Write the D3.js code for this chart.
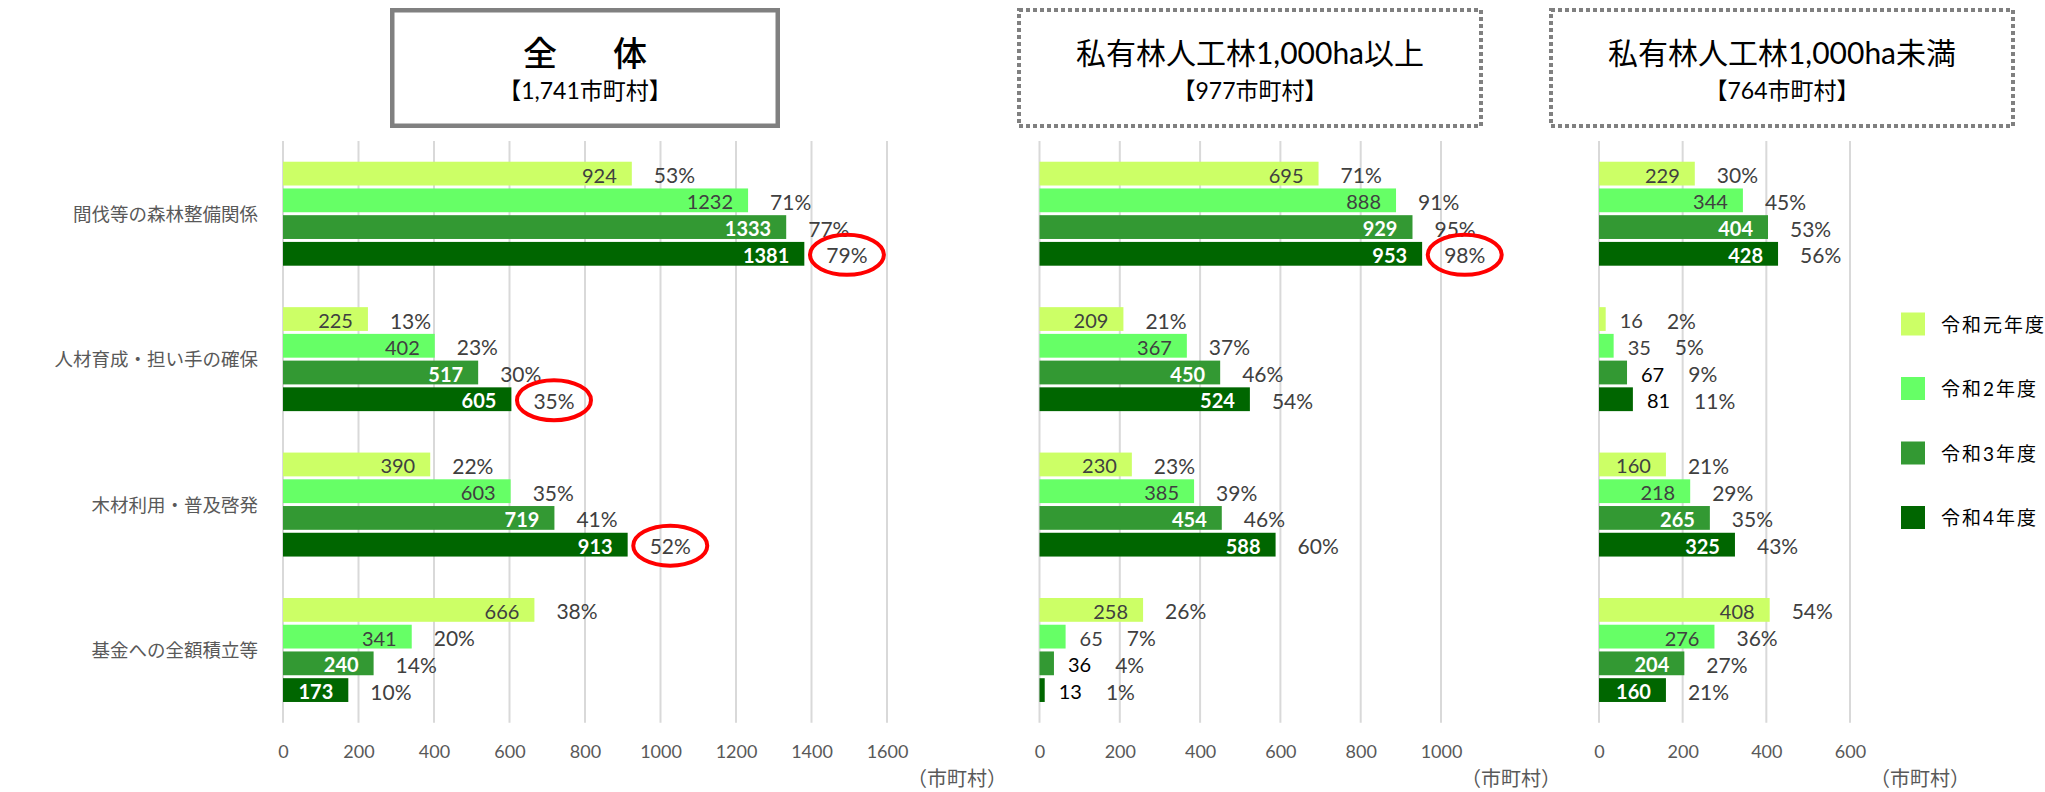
<!DOCTYPE html>
<html><head><meta charset="utf-8">
<script src="https://cdn.jsdelivr.net/npm/d3@7"></script>
<style>
html,body{margin:0;padding:0;background:#fff;}
svg{display:block;}
text{font-family: Lato, 'Noto Sans CJK JP', sans-serif;}
</style></head><body>
<svg id="chart" width="2045" height="792"></svg>
<script>
// ---------------- DATA ----------------
const categories = ["間伐等の森林整備関係", "人材育成・担い手の確保", "木材利用・普及啓発", "基金への全額積立等"];
const seriesNames = ["令和元年度", "令和2年度", "令和3年度", "令和4年度"];
const seriesColors = ["#CCFF66", "#66FF66", "#339933", "#006600"];

const panelTitles = ["全　体", "私有林人工林1,000ha以上", "私有林人工林1,000ha未満"];
const panelSubtitles = ["【1,741市町村】", "【977市町村】", "【764市町村】"];
const unitLabel = "（市町村）";

// 全体 (1,741)
const totalR1 = [924, 225, 390, 666];
const totalR2 = [1232, 402, 603, 341];
const totalR3 = [1333, 517, 719, 240];
const totalR4 = [1381, 605, 913, 173];
const totalPctR1 = [53, 13, 22, 38];
const totalPctR2 = [71, 23, 35, 20];
const totalPctR3 = [77, 30, 41, 14];
const totalPctR4 = [79, 35, 52, 10];

// 私有林人工林1,000ha以上 (977)
const largeR1 = [695, 209, 230, 258];
const largeR2 = [888, 367, 385, 65];
const largeR3 = [929, 450, 454, 36];
const largeR4 = [953, 524, 588, 13];
const largePctR1 = [71, 21, 23, 26];
const largePctR2 = [91, 37, 39, 7];
const largePctR3 = [95, 46, 46, 4];
const largePctR4 = [98, 54, 60, 1];

// 私有林人工林1,000ha未満 (764)
const smallR1 = [229, 16, 160, 408];
const smallR2 = [344, 35, 218, 276];
const smallR3 = [404, 67, 265, 204];
const smallR4 = [428, 81, 325, 160];
const smallPctR1 = [30, 2, 21, 54];
const smallPctR2 = [45, 5, 29, 36];
const smallPctR3 = [53, 9, 35, 27];
const smallPctR4 = [56, 11, 43, 21];

const totalTicks = [0, 200, 400, 600, 800, 1000, 1200, 1400, 1600];
const largeTicks = [0, 200, 400, 600, 800, 1000];
const smallTicks = [0, 200, 400, 600];

// highlighted (red-circled) percentages: [category index, series index]
const circledTotal = [[0, 3], [1, 3], [2, 3]];
const circledLarge = [[0, 3]];
const circledSmall = [];

// ---------------- LAYOUT ----------------
const svg = d3.select("#chart");
const plotTop = 141, plotBottom = 722.7;

const panels = [
  { values: [totalR1, totalR2, totalR3, totalR4], pcts: [totalPctR1, totalPctR2, totalPctR3, totalPctR4],
    ticks: totalTicks, range: [283, 887], circled: circledTotal,
    box: { x: 390, y: 8, w: 390, h: 120, dashed: false }, titleSize: 34, titleWeight: 500, spacing: 11 },
  { values: [largeR1, largeR2, largeR3, largeR4], pcts: [largePctR1, largePctR2, largePctR3, largePctR4],
    ticks: largeTicks, range: [1039.5, 1441], circled: circledLarge,
    box: { x: 1017, y: 8, w: 466, h: 120, dashed: true }, titleSize: 30, titleWeight: 400, spacing: 0 },
  { values: [smallR1, smallR2, smallR3, smallR4], pcts: [smallPctR1, smallPctR2, smallPctR3, smallPctR4],
    ticks: smallTicks, range: [1599, 1850], circled: circledSmall,
    box: { x: 1549, y: 8, w: 466, h: 120, dashed: true }, titleSize: 30, titleWeight: 400, spacing: 0 }
];

const y = d3.scaleBand().domain(categories).range([plotTop, plotBottom])
  .paddingInner(0.285).paddingOuter(0.1425);
const ys = d3.scaleBand().domain(d3.range(seriesNames.length)).range([0, y.bandwidth()])
  .paddingInner(0.11).paddingOuter(0);

const labelSize = 20, pctSize = 21;

panels.forEach((p, pi) => {
  const g = svg.append("g");
  const x = d3.scaleLinear().domain([0, d3.max(p.ticks)]).range(p.range);

  // title box
  const b = p.box, sw = p.box.dashed ? 4 : 4.5;
  g.append("rect")
    .attr("x", b.x + sw / 2).attr("y", b.y + sw / 2)
    .attr("width", b.w - sw).attr("height", b.h - sw)
    .attr("fill", "#fff").attr("stroke", "#808080").attr("stroke-width", sw)
    .attr("stroke-dasharray", b.dashed ? "4 3" : null);
  const cx = b.x + b.w / 2;
  g.append("text").text(panelTitles[pi])
    .attr("x", cx + p.spacing / 2).attr("y", 52)
    .attr("text-anchor", "middle").attr("dominant-baseline", "central")
    .attr("font-size", p.titleSize).attr("font-weight", p.titleWeight)
    .attr("letter-spacing", p.spacing).attr("fill", "#000");
  g.append("text").text(panelSubtitles[pi])
    .attr("x", cx).attr("y", 90)
    .attr("text-anchor", "middle").attr("dominant-baseline", "central")
    .attr("font-size", 23).attr("fill", "#000");

  // gridlines
  g.selectAll("line.grid").data(p.ticks).join("line")
    .attr("x1", d => x(d)).attr("x2", d => x(d))
    .attr("y1", plotTop).attr("y2", plotBottom)
    .attr("stroke", "#d9d9d9").attr("stroke-width", 2);

  // x axis labels
  const axis = d3.axisBottom(x).tickValues(p.ticks).tickSize(0).tickPadding(0).tickFormat(d3.format("d"));
  const ag = g.append("g").attr("transform", `translate(0,751)`).call(axis);
  ag.select(".domain").remove();
  ag.selectAll("text").attr("font-size", 18).attr("fill", "#595959")
    .attr("font-family", "Lato, 'Noto Sans CJK JP', sans-serif")
    .attr("dy", null).attr("y", 0).attr("dominant-baseline", "central");

  // unit label
  g.append("text").text(unitLabel)
    .attr("x", p.range[1] + 120).attr("y", 778)
    .attr("text-anchor", "end").attr("dominant-baseline", "central")
    .attr("font-size", 20).attr("fill", "#595959")
    .attr("font-family", "'Noto Sans CJK JP', sans-serif");

  // bars
  categories.forEach((cat, ci) => {
    seriesNames.forEach((sn, si) => {
      const v = p.values[si][ci];
      const pct = p.pcts[si][ci];
      const by = y(cat) + ys(si);
      const bh = ys.bandwidth();
      const cy = by + bh / 2;
      const bw = x(v) - x(0);
      g.append("rect")
        .attr("x", x(0)).attr("y", by).attr("width", bw).attr("height", bh)
        .attr("fill", seriesColors[si]);

      const dark = si >= 2;
      const vt = g.append("text").text(v)
        .attr("dominant-baseline", "central").attr("y", cy + 1)
        .attr("font-size", labelSize)
        .attr("font-weight", dark ? 700 : 400);
      const tw = vt.node().getComputedTextLength();
      let pctX;
      if (tw + 26 > bw) {
        vt.attr("x", x(v) + 14).attr("text-anchor", "start")
          .attr("font-weight", 400)
          .attr("fill", dark ? "#000" : "#404040");
        const tw2 = vt.node().getComputedTextLength();
        pctX = x(v) + 14 + tw2 + 24;
      } else {
        vt.attr("x", x(v) - 15).attr("text-anchor", "end")
          .attr("fill", dark ? "#fff" : "#404040");
        pctX = x(v) + 22;
      }
      const pt = g.append("text").text(pct + "%")
        .attr("x", pctX).attr("y", cy + 1)
        .attr("dominant-baseline", "central")
        .attr("font-size", pctSize).attr("fill", "#404040");
      const isCircled = p.circled.some(c => c[0] === ci && c[1] === si);
      if (isCircled) {
        const pw = pt.node().getComputedTextLength();
        g.append("ellipse")
          .attr("cx", pctX + pw / 2).attr("cy", cy + 1)
          .attr("rx", 37).attr("ry", 20)
          .attr("fill", "none").attr("stroke", "#ff0000").attr("stroke-width", 4);
      }
    });
  });
});

// category labels (left)
svg.append("g").selectAll("text").data(categories).join("text")
  .text(d => d)
  .attr("x", 258).attr("y", d => y(d) + y.bandwidth() / 2)
  .attr("text-anchor", "end").attr("dominant-baseline", "central")
  .attr("font-size", 18.5).attr("fill", "#595959")
  .attr("font-family", "'Noto Sans CJK JP', sans-serif");

// legend
const legendY = d3.scaleLinear().domain([0, seriesNames.length - 1]).range([324, 517.5]);
const lg = svg.append("g");
seriesNames.forEach((sn, i) => {
  lg.append("rect").attr("x", 1901).attr("y", legendY(i) - 11.5)
    .attr("width", 24).attr("height", 23).attr("fill", seriesColors[i]);
  lg.append("text").text(sn).attr("x", 1941).attr("y", legendY(i))
    .attr("dominant-baseline", "central").attr("font-size", 19)
    .attr("letter-spacing", 2).attr("fill", "#000")
    .attr("font-family", "'Noto Sans CJK JP', sans-serif");
});
</script>
</body></html>
